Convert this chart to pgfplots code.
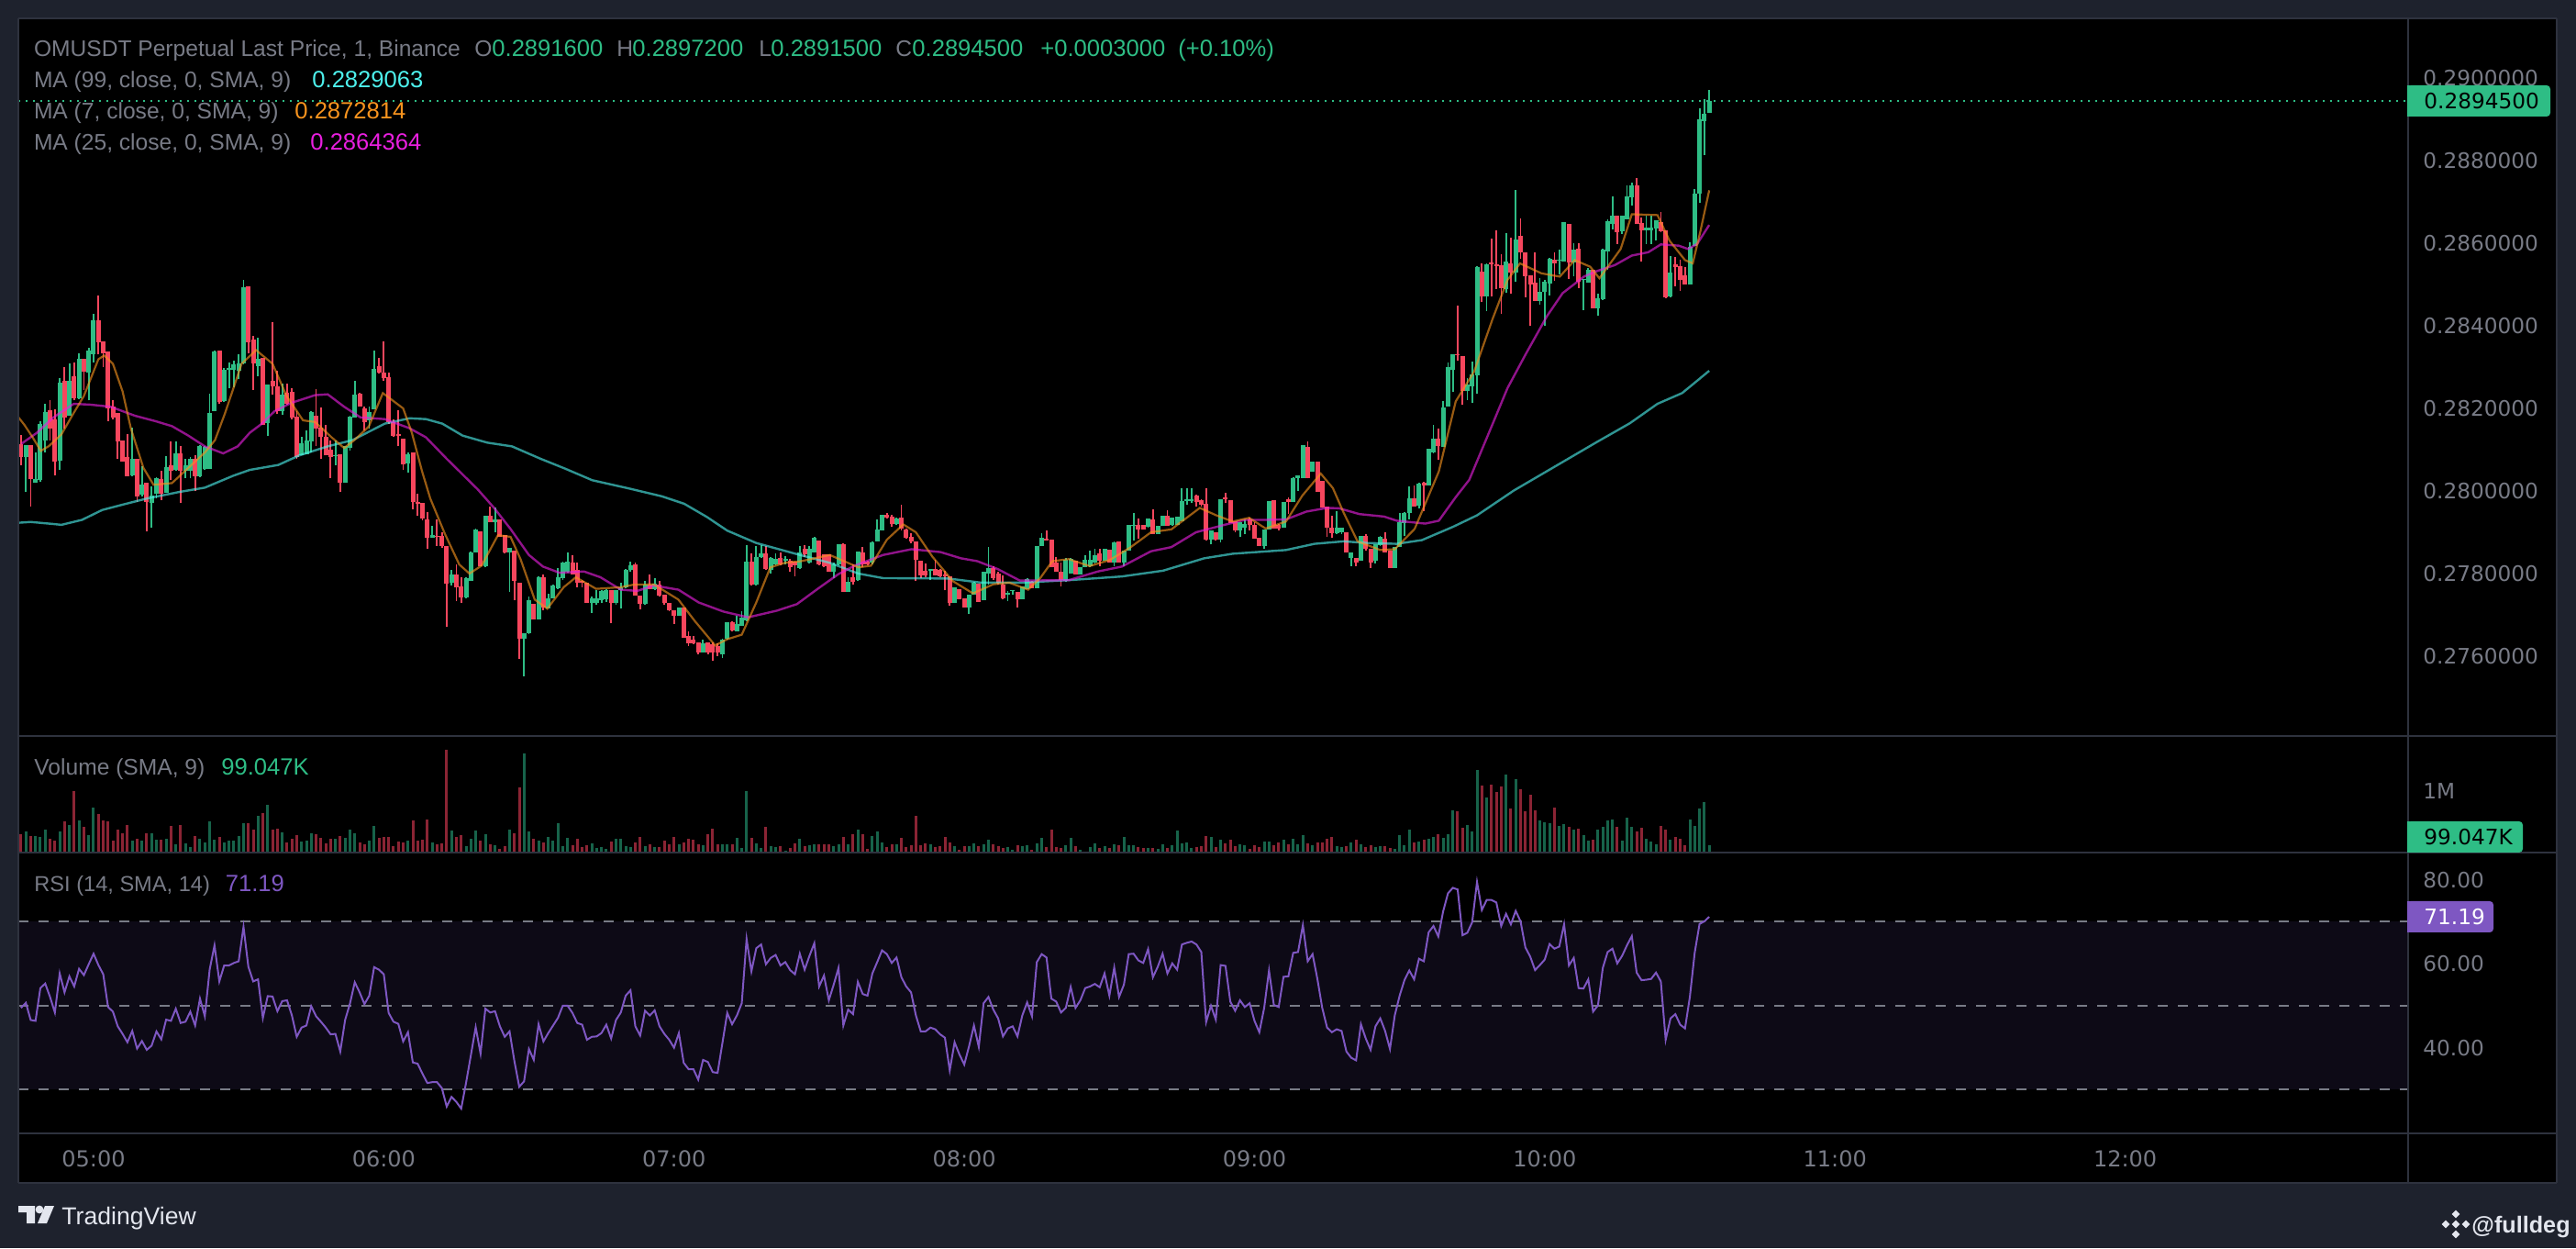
\documentclass[border=0pt]{standalone}
\usepackage{pgfplots}
\usepackage{pgfplotstable}
\usepackage{fontspec}
\setmainfont{Liberation Sans}
\newfontfamily\scalefont{DejaVu Sans}
\pgfplotsset{compat=1.18}
\definecolor{outer}{HTML}{1E222D}
\definecolor{sep}{HTML}{2E323E}
\definecolor{txt}{HTML}{787B86}
\definecolor{up}{HTML}{2EBD85}
\definecolor{dn}{HTML}{F6465D}
\definecolor{upv}{HTML}{17634A}
\definecolor{dnv}{HTML}{8B2434}
\definecolor{ma99}{HTML}{4DF0EC}
\definecolor{ma7}{HTML}{F7931E}
\definecolor{ma25}{HTML}{E91FDF}
\definecolor{rsi}{HTML}{7E57C2}
\definecolor{band}{HTML}{0D0A16}
\definecolor{foot}{HTML}{E3E6EE}
\pgfplotstableread{
t o h l c v r
-15 0.28114 0.28136 0.28063 0.28082 288 49.5
-14 0.28082 0.28111 0.27997 0.28111 338 50.7
-13 0.28111 0.28111 0.27963 0.28028 263 46.6
-12 0.28021 0.28093 0.28021 0.28028 263 46.4
-11 0.28026 0.28169 0.28023 0.28163 247 54.2
-10 0.28123 0.28211 0.28093 0.28191 364 55.3
-9 0.28195 0.28220 0.28123 0.28150 217 52.1
-8 0.28174 0.28197 0.28037 0.28072 187 48.4
-7 0.28074 0.28274 0.28052 0.28262 328 57.7
-6 0.28267 0.28300 0.28152 0.28178 505 53.2
-5 0.28182 0.28308 0.28182 0.28267 444 57.0
-4 0.28278 0.28311 0.28219 0.28225 1005 54.6
-3 0.28225 0.28333 0.28223 0.28319 520 58.8
-2 0.28319 0.28319 0.28245 0.28289 414 57.3
-1 0.28286 0.28346 0.28219 0.28339 278 59.9
0 0.28331 0.28429 0.28311 0.28414 732 62.4
1 0.28414 0.28473 0.28330 0.28361 626 59.7
2 0.28363 0.28363 0.28300 0.28334 520 57.5
3 0.28337 0.28337 0.28169 0.28199 505 49.7
4 0.28204 0.28219 0.28174 0.28178 177 48.6
5 0.28188 0.28189 0.28078 0.28121 369 45.1
6 0.28123 0.28123 0.28072 0.28072 298 43.3
7 0.28082 0.28137 0.28035 0.28035 444 41.3
8 0.28037 0.28154 0.28035 0.28078 187 44.0
9 0.28078 0.28078 0.27974 0.27987 217 39.8
10 0.27991 0.28060 0.27986 0.28015 187 41.6
11 0.28020 0.28020 0.27902 0.27974 308 39.5
12 0.27972 0.28011 0.27911 0.27989 308 40.5
13 0.27993 0.28034 0.27982 0.28030 202 43.9
14 0.28028 0.28048 0.27978 0.27993 202 42.0
15 0.27995 0.28084 0.27995 0.28058 217 46.7
16 0.28063 0.28121 0.28026 0.28048 429 46.4
17 0.28052 0.28119 0.28048 0.28091 126 49.3
18 0.28091 0.28109 0.27971 0.28048 444 45.9
19 0.28048 0.28078 0.28030 0.28063 136 46.2
20 0.28048 0.28082 0.28030 0.28078 76 48.6
21 0.28077 0.28087 0.27999 0.28035 263 45.3
22 0.28035 0.28111 0.28034 0.28109 217 51.7
23 0.28054 0.28108 0.28052 0.28106 157 47.5
24 0.28054 0.28236 0.28054 0.28189 505 58.6
25 0.28194 0.28339 0.28193 0.28337 202 64.4
26 0.28339 0.28341 0.28211 0.28215 237 55.8
27 0.28217 0.28297 0.28215 0.28294 152 59.6
28 0.28294 0.28310 0.28248 0.28297 187 59.6
29 0.28294 0.28315 0.28252 0.28306 187 60.2
30 0.28291 0.28330 0.28271 0.28308 263 60.6
31 0.28308 0.28511 0.28306 0.28494 475 68.8
32 0.28496 0.28496 0.28333 0.28361 475 59.3
33 0.28366 0.28376 0.28245 0.28308 369 55.8
34 0.28303 0.28371 0.28278 0.28319 596 56.3
35 0.28323 0.28323 0.28159 0.28160 641 47.1
36 0.28165 0.28257 0.28134 0.28257 778 52.3
37 0.28267 0.28409 0.28234 0.28254 369 52.2
38 0.28254 0.28291 0.28186 0.28193 379 48.7
39 0.28193 0.28260 0.28184 0.28234 323 51.1
40 0.28237 0.28260 0.28208 0.28211 152 51.3
41 0.28241 0.28248 0.28174 0.28177 217 47.7
42 0.28180 0.28193 0.28078 0.28082 278 42.6
43 0.28086 0.28130 0.28086 0.28115 172 44.8
44 0.28089 0.28146 0.28089 0.28123 187 45.3
45 0.28119 0.28193 0.28093 0.28191 308 49.9
46 0.28182 0.28246 0.28108 0.28152 293 47.5
47 0.28154 0.28203 0.28078 0.28130 232 46.2
48 0.28131 0.28160 0.28086 0.28086 141 44.8
49 0.28100 0.28123 0.28032 0.28082 217 43.2
50 0.28086 0.28123 0.28063 0.28087 217 43.3
51 0.28089 0.28089 0.27997 0.28020 263 39.1
52 0.28020 0.28109 0.28020 0.28108 232 46.6
53 0.28104 0.28182 0.28097 0.28180 369 50.5
54 0.28178 0.28267 0.28178 0.28234 308 55.6
55 0.28236 0.28237 0.28204 0.28204 157 53.2
56 0.28200 0.28204 0.28146 0.28167 126 50.4
57 0.28171 0.28204 0.28152 0.28191 187 52.4
58 0.28197 0.28340 0.28197 0.28296 429 59.2
59 0.28303 0.28323 0.28284 0.28286 232 58.6
60 0.28287 0.28362 0.28267 0.28274 247 57.5
61 0.28276 0.28287 0.28163 0.28167 247 48.3
62 0.28167 0.28174 0.28132 0.28134 96 46.2
63 0.28137 0.28195 0.28108 0.28133 172 45.7
64 0.28126 0.28126 0.28052 0.28065 157 41.5
65 0.28067 0.28093 0.28045 0.28089 187 43.7
66 0.28093 0.28093 0.27956 0.27974 520 36.5
67 0.27974 0.27993 0.27941 0.27969 187 36.2
68 0.27972 0.27972 0.27929 0.27934 202 33.8
69 0.27931 0.27948 0.27860 0.27886 535 31.6
70 0.27887 0.27915 0.27886 0.27894 157 31.8
71 0.27892 0.27931 0.27867 0.27889 126 31.8
72 0.27891 0.27900 0.27863 0.27867 141 30.4
73 0.27867 0.27867 0.27672 0.27776 1682 26.0
74 0.27778 0.27808 0.27771 0.27797 354 28.3
75 0.27797 0.27822 0.27734 0.27767 247 27.1
76 0.27768 0.27791 0.27730 0.27743 278 25.5
77 0.27743 0.27791 0.27741 0.27788 96 31.6
78 0.27783 0.27854 0.27782 0.27852 217 38.2
79 0.27852 0.27909 0.27852 0.27906 354 44.9
80 0.27902 0.27902 0.27817 0.27817 187 38.6
81 0.27817 0.27939 0.27815 0.27939 293 49.3
82 0.27939 0.27963 0.27924 0.27924 126 48.4
83 0.27924 0.27961 0.27900 0.27932 111 48.7
84 0.27932 0.27932 0.27889 0.27889 50 45.1
85 0.27893 0.27893 0.27849 0.27851 96 42.6
86 0.27852 0.27863 0.27756 0.27863 369 43.9
87 0.27856 0.27856 0.27736 0.27782 308 36.8
88 0.27778 0.27778 0.27593 0.27643 1066 30.7
89 0.27643 0.27656 0.27552 0.27656 1626 32.0
90 0.27656 0.27745 0.27654 0.27736 338 39.7
91 0.27726 0.27726 0.27689 0.27689 217 37.1
92 0.27689 0.27793 0.27689 0.27791 187 45.6
93 0.27791 0.27797 0.27711 0.27717 157 41.5
94 0.27715 0.27752 0.27715 0.27741 247 43.5
95 0.27741 0.27774 0.27739 0.27772 187 45.3
96 0.27765 0.27813 0.27763 0.27791 475 47.1
97 0.27789 0.27828 0.27785 0.27826 96 50.0
98 0.27804 0.27851 0.27802 0.27828 232 50.0
99 0.27826 0.27845 0.27797 0.27798 111 48.3
100 0.27809 0.27826 0.27767 0.27778 217 45.9
101 0.27783 0.27785 0.27767 0.27778 81 45.5
102 0.27778 0.27778 0.27728 0.27730 111 41.9
103 0.27730 0.27745 0.27704 0.27739 141 42.6
104 0.27730 0.27760 0.27724 0.27739 66 42.7
105 0.27736 0.27761 0.27730 0.27758 81 43.5
106 0.27737 0.27763 0.27731 0.27761 50 45.5
107 0.27761 0.27761 0.27680 0.27728 172 42.2
108 0.27728 0.27761 0.27725 0.27760 217 46.6
109 0.27760 0.27778 0.27715 0.27767 217 48.4
110 0.27767 0.27811 0.27765 0.27810 96 52.4
111 0.27808 0.27828 0.27804 0.27820 81 53.7
112 0.27822 0.27826 0.27747 0.27747 152 45.1
113 0.27747 0.27747 0.27714 0.27726 247 42.9
114 0.27726 0.27782 0.27724 0.27773 96 48.8
115 0.27774 0.27798 0.27762 0.27763 126 47.7
116 0.27763 0.27789 0.27761 0.27776 81 48.9
117 0.27773 0.27782 0.27745 0.27746 81 45.1
118 0.27748 0.27748 0.27725 0.27728 182 43.3
119 0.27730 0.27730 0.27710 0.27711 116 41.9
120 0.27711 0.27711 0.27678 0.27697 247 40.0
121 0.27697 0.27717 0.27697 0.27717 126 43.5
122 0.27717 0.27717 0.27645 0.27645 157 36.4
123 0.27648 0.27660 0.27625 0.27632 217 34.9
124 0.27641 0.27650 0.27630 0.27632 197 34.9
125 0.27634 0.27634 0.27604 0.27608 126 32.4
126 0.27610 0.27641 0.27610 0.27632 111 37.1
127 0.27634 0.27634 0.27604 0.27610 293 36.6
128 0.27630 0.27634 0.27589 0.27608 384 34.2
129 0.27625 0.27632 0.27600 0.27608 126 34.0
130 0.27604 0.27642 0.27595 0.27641 126 41.1
131 0.27642 0.27683 0.27641 0.27682 126 48.3
132 0.27683 0.27685 0.27660 0.27663 126 45.6
133 0.27661 0.27697 0.27660 0.27678 232 47.7
134 0.27674 0.27710 0.27673 0.27694 66 50.6
135 0.27687 0.27868 0.27685 0.27828 1005 65.9
136 0.27830 0.27848 0.27771 0.27773 232 58.2
137 0.27773 0.27867 0.27771 0.27839 141 63.7
138 0.27839 0.27868 0.27838 0.27848 66 64.6
139 0.27848 0.27867 0.27808 0.27811 414 59.9
140 0.27810 0.27841 0.27800 0.27837 96 61.4
141 0.27822 0.27848 0.27819 0.27835 81 62.1
142 0.27837 0.27852 0.27820 0.27822 96 59.6
143 0.27832 0.27842 0.27822 0.27835 20 60.4
144 0.27830 0.27835 0.27804 0.27815 66 58.5
145 0.27828 0.27830 0.27793 0.27819 141 57.5
146 0.27813 0.27867 0.27811 0.27852 217 62.4
147 0.27859 0.27869 0.27841 0.27847 96 58.6
148 0.27826 0.27867 0.27825 0.27859 111 61.9
149 0.27852 0.27889 0.27850 0.27887 126 64.9
150 0.27879 0.27879 0.27820 0.27822 126 54.6
151 0.27847 0.27847 0.27815 0.27817 126 57.2
152 0.27847 0.27847 0.27804 0.27804 126 51.3
153 0.27805 0.27826 0.27789 0.27822 96 55.0
154 0.27822 0.27872 0.27820 0.27871 126 59.0
155 0.27872 0.27874 0.27756 0.27756 247 45.3
156 0.27756 0.27791 0.27755 0.27780 126 49.1
157 0.27791 0.27822 0.27774 0.27780 293 48.0
158 0.27785 0.27854 0.27783 0.27854 369 55.7
159 0.27850 0.27865 0.27815 0.27822 293 52.8
160 0.27830 0.27832 0.27820 0.27822 50 52.4
161 0.27826 0.27877 0.27822 0.27876 263 57.7
162 0.27878 0.27932 0.27877 0.27906 338 60.4
163 0.27905 0.27943 0.27904 0.27942 157 63.2
164 0.27942 0.27946 0.27934 0.27936 81 62.3
165 0.27937 0.27942 0.27914 0.27919 126 60.2
166 0.27919 0.27936 0.27917 0.27934 126 61.5
167 0.27936 0.27967 0.27904 0.27909 232 56.8
168 0.27906 0.27908 0.27885 0.27887 81 54.6
169 0.27889 0.27897 0.27874 0.27877 111 53.2
170 0.27878 0.27878 0.27782 0.27834 596 47.7
171 0.27830 0.27830 0.27789 0.27796 111 43.9
172 0.27807 0.27824 0.27792 0.27796 141 43.9
173 0.27807 0.27811 0.27785 0.27811 126 44.8
174 0.27811 0.27833 0.27795 0.27796 81 44.4
175 0.27810 0.27811 0.27792 0.27793 96 43.2
176 0.27798 0.27807 0.27759 0.27793 247 42.4
177 0.27793 0.27793 0.27722 0.27730 157 34.6
178 0.27730 0.27767 0.27730 0.27767 96 41.3
179 0.27763 0.27763 0.27738 0.27738 35 38.4
180 0.27741 0.27741 0.27718 0.27718 96 36.0
181 0.27718 0.27750 0.27702 0.27750 96 40.4
182 0.27748 0.27780 0.27748 0.27778 141 45.3
183 0.27776 0.27776 0.27732 0.27732 96 40.2
184 0.27735 0.27804 0.27735 0.27804 126 50.6
185 0.27799 0.27864 0.27774 0.27813 202 52.1
186 0.27813 0.27818 0.27785 0.27789 126 49.1
187 0.27800 0.27804 0.27773 0.27778 96 47.0
188 0.27774 0.27796 0.27737 0.27739 66 42.7
189 0.27750 0.27758 0.27733 0.27753 81 44.6
190 0.27758 0.27759 0.27750 0.27759 35 45.1
191 0.27755 0.27755 0.27718 0.27737 111 42.7
192 0.27738 0.27770 0.27738 0.27769 96 47.7
193 0.27763 0.27790 0.27763 0.27787 111 50.8
194 0.27781 0.27782 0.27764 0.27764 35 47.5
195 0.27765 0.27867 0.27765 0.27867 141 60.4
196 0.27867 0.27898 0.27867 0.27887 232 62.3
197 0.27884 0.27904 0.27880 0.27881 81 61.5
198 0.27883 0.27883 0.27815 0.27815 369 51.7
199 0.27826 0.27841 0.27804 0.27805 81 51.0
200 0.27805 0.27826 0.27770 0.27785 66 48.4
201 0.27783 0.27837 0.27781 0.27833 111 49.5
202 0.27800 0.27837 0.27799 0.27835 232 54.5
203 0.27832 0.27832 0.27798 0.27798 96 49.5
204 0.27798 0.27815 0.27798 0.27815 35 51.3
205 0.27815 0.27844 0.27815 0.27833 5 54.2
206 0.27818 0.27855 0.27815 0.27833 81 54.6
207 0.27826 0.27861 0.27824 0.27844 141 55.2
208 0.27848 0.27861 0.27818 0.27832 66 54.4
209 0.27830 0.27861 0.27830 0.27859 96 57.7
210 0.27858 0.27858 0.27826 0.27826 66 52.4
211 0.27826 0.27878 0.27818 0.27876 126 59.1
212 0.27878 0.27878 0.27827 0.27827 111 52.1
213 0.27827 0.27855 0.27818 0.27855 247 55.0
214 0.27855 0.27917 0.27855 0.27917 111 62.3
215 0.27915 0.27946 0.27881 0.27918 111 62.4
216 0.27917 0.27933 0.27885 0.27907 76 60.8
217 0.27917 0.27917 0.27906 0.27907 66 60.2
218 0.27913 0.27933 0.27912 0.27933 66 63.5
219 0.27932 0.27955 0.27896 0.27896 66 56.8
220 0.27896 0.27915 0.27896 0.27915 50 59.3
221 0.27915 0.27941 0.27915 0.27941 126 62.4
222 0.27941 0.27954 0.27915 0.27915 61 57.7
223 0.27918 0.27935 0.27916 0.27935 111 60.1
224 0.27918 0.27937 0.27918 0.27937 354 58.6
225 0.27926 0.28006 0.27926 0.27975 141 64.6
226 0.27975 0.28006 0.27967 0.27980 157 65.0
227 0.27975 0.28006 0.27970 0.27980 66 65.3
228 0.27989 0.27992 0.27963 0.27974 81 64.6
229 0.27978 0.27980 0.27963 0.27967 96 62.8
230 0.27968 0.28006 0.27881 0.27883 263 46.1
231 0.27883 0.27904 0.27870 0.27904 247 50.0
232 0.27900 0.27900 0.27881 0.27883 81 46.7
233 0.27883 0.27981 0.27876 0.27981 202 59.7
234 0.27985 0.27995 0.27972 0.27980 141 59.5
235 0.27978 0.27978 0.27922 0.27922 202 51.0
236 0.27926 0.27926 0.27900 0.27904 96 48.8
237 0.27905 0.27924 0.27889 0.27924 126 51.3
238 0.27910 0.27930 0.27895 0.27921 111 49.7
239 0.27930 0.27935 0.27905 0.27918 50 50.6
240 0.27918 0.27924 0.27884 0.27884 111 46.4
241 0.27887 0.27887 0.27867 0.27867 81 43.7
242 0.27867 0.27906 0.27861 0.27906 172 49.5
243 0.27906 0.27975 0.27906 0.27975 172 58.4
244 0.27978 0.27978 0.27909 0.27909 111 50.2
245 0.27918 0.27920 0.27905 0.27909 157 49.7
246 0.27911 0.27974 0.27911 0.27974 202 56.9
247 0.27980 0.27985 0.27944 0.27974 126 57.0
248 0.27974 0.28034 0.27974 0.28031 217 62.6
249 0.28031 0.28037 0.28000 0.28037 126 62.8
250 0.28030 0.28110 0.28030 0.28110 278 69.2
251 0.28106 0.28119 0.28030 0.28030 141 60.6
252 0.28047 0.28072 0.28047 0.28072 111 62.3
253 0.28070 0.28070 0.27998 0.27998 157 56.4
254 0.28024 0.28024 0.27961 0.27961 157 49.5
255 0.27963 0.27963 0.27889 0.27911 217 44.8
256 0.27912 0.27941 0.27887 0.27898 247 43.7
257 0.27898 0.27952 0.27895 0.27911 96 44.4
258 0.27900 0.27911 0.27895 0.27911 81 44.0
259 0.27901 0.27901 0.27850 0.27850 96 39.1
260 0.27837 0.27852 0.27818 0.27852 157 37.6
261 0.27837 0.27837 0.27818 0.27827 202 37.0
262 0.27830 0.27891 0.27830 0.27891 126 45.6
263 0.27891 0.27896 0.27855 0.27860 81 42.2
264 0.27859 0.27859 0.27813 0.27827 111 39.5
265 0.27830 0.27872 0.27825 0.27870 81 45.1
266 0.27868 0.27892 0.27866 0.27888 96 47.0
267 0.27884 0.27900 0.27851 0.27852 96 44.0
268 0.27856 0.27856 0.27813 0.27813 66 39.7
269 0.27814 0.27864 0.27814 0.27864 50 47.7
270 0.27864 0.27947 0.27864 0.27925 278 52.4
271 0.27922 0.27949 0.27890 0.27947 111 56.1
272 0.27947 0.28011 0.27932 0.27982 369 58.4
273 0.27983 0.28013 0.27962 0.27963 157 56.3
274 0.27965 0.28019 0.27957 0.28017 172 61.2
275 0.28020 0.28023 0.27951 0.28013 202 60.6
276 0.28013 0.28102 0.28013 0.28102 217 67.5
277 0.28094 0.28160 0.28092 0.28126 247 69.0
278 0.28126 0.28150 0.28076 0.28108 293 66.5
279 0.28106 0.28217 0.28106 0.28203 232 72.5
280 0.28205 0.28311 0.28205 0.28301 293 76.8
281 0.28293 0.28332 0.28240 0.28332 687 78.1
282 0.28332 0.28449 0.28316 0.28328 672 77.7
283 0.28327 0.28327 0.28208 0.28243 399 66.8
284 0.28243 0.28273 0.28221 0.28257 444 67.4
285 0.28253 0.28313 0.28213 0.28282 338 69.9
286 0.28279 0.28544 0.28236 0.28543 1348 79.5
287 0.28531 0.28551 0.28457 0.28471 1096 72.8
288 0.28471 0.28551 0.28436 0.28549 899 75.2
289 0.28553 0.28612 0.28470 0.28549 1111 75.2
290 0.28549 0.28632 0.28489 0.28545 990 74.6
291 0.28547 0.28573 0.28428 0.28491 1081 69.0
292 0.28489 0.28624 0.28479 0.28555 1278 71.9
293 0.28551 0.28613 0.28478 0.28528 717 69.4
294 0.28528 0.28728 0.28507 0.28609 1202 72.6
295 0.28617 0.28660 0.28563 0.28577 1035 70.1
296 0.28578 0.28578 0.28469 0.28520 672 63.9
297 0.28523 0.28523 0.28401 0.28499 944 61.7
298 0.28505 0.28578 0.28459 0.28461 687 58.5
299 0.28461 0.28515 0.28451 0.28483 520 59.7
300 0.28483 0.28511 0.28400 0.28507 490 61.0
301 0.28503 0.28564 0.28473 0.28563 475 64.7
302 0.28561 0.28577 0.28509 0.28552 732 63.6
303 0.28557 0.28584 0.28525 0.28560 429 64.1
304 0.28555 0.28650 0.28555 0.28650 460 69.4
305 0.28646 0.28646 0.28513 0.28553 414 59.6
306 0.28553 0.28600 0.28519 0.28584 369 61.4
307 0.28586 0.28600 0.28491 0.28507 384 54.2
308 0.28511 0.28513 0.28438 0.28513 278 54.1
309 0.28505 0.28540 0.28505 0.28535 187 56.3
310 0.28535 0.28535 0.28442 0.28442 202 48.6
311 0.28442 0.28478 0.28425 0.28467 369 50.1
312 0.28465 0.28586 0.28463 0.28584 414 59.0
313 0.28581 0.28658 0.28536 0.28654 520 62.8
314 0.28646 0.28713 0.28634 0.28667 535 63.6
315 0.28667 0.28667 0.28598 0.28626 414 60.1
316 0.28628 0.28667 0.28622 0.28667 187 61.9
317 0.28658 0.28740 0.28658 0.28713 566 64.4
318 0.28711 0.28747 0.28692 0.28740 414 66.6
319 0.28740 0.28757 0.28646 0.28647 338 57.9
320 0.28649 0.28662 0.28556 0.28632 399 56.1
321 0.28632 0.28666 0.28598 0.28638 217 56.2
322 0.28632 0.28667 0.28598 0.28638 172 56.4
323 0.28636 0.28655 0.28606 0.28655 126 57.9
324 0.28650 0.28675 0.28626 0.28628 429 55.8
325 0.28632 0.28632 0.28467 0.28469 369 41.9
326 0.28471 0.28569 0.28469 0.28528 202 47.0
327 0.28548 0.28567 0.28495 0.28543 247 48.0
328 0.28544 0.28560 0.28485 0.28511 217 45.5
329 0.28523 0.28543 0.28501 0.28501 101 44.6
330 0.28501 0.28602 0.28501 0.28590 535 52.1
331 0.28594 0.28732 0.28594 0.28720 429 62.6
332 0.28719 0.28926 0.28697 0.28900 717 69.5
333 0.28896 0.28949 0.28813 0.28913 823 70.1
334 0.28916 0.28972 0.28915 0.28945 99 71.19
}\candles
\pgfplotstableread{
t p
-15.5 0.27923
-13 0.27925
-8.3 0.27920
-6.65 0.27918
-2.4 0.27930
1.8 0.27954
6.05 0.27967
11.1 0.27982
17.9 0.27998
23 0.28008
28.9 0.28037
32.3 0.28051
38.2 0.28063
42.5 0.28086
48.4 0.28108
53.5 0.28123
60.2 0.28163
65.3 0.28176
68.7 0.28174
72.1 0.28163
76.3 0.28134
81.4 0.28117
86.5 0.28108
92.4 0.28078
97.5 0.28054
103.1 0.28026
110.7 0.28006
117.5 0.27987
122.1 0.27969
126.8 0.27937
131 0.27904
137 0.27874
145.4 0.27847
152.2 0.27826
158.1 0.27800
163.2 0.27789
176.7 0.27788
183.5 0.27778
191.5 0.27778
201.6 0.27784
212.6 0.27793
221.1 0.27807
229.6 0.27837
235.5 0.27848
246.5 0.27857
252.4 0.27872
258.4 0.27878
263.4 0.27874
269.4 0.27872
274.6 0.27881
281 0.27913
286 0.27941
293.6 0.28001
303.1 0.28066
310.7 0.28118
317.6 0.28164
323.3 0.28211
328.4 0.28237
330.9 0.28261
334 0.28291
}\mann
\pgfplotstableread{
t p
-14.95 0.28114
-11.7 0.28141
-8.3 0.28178
-4.1 0.28211
-0.7 0.28209
3.5 0.28204
8.6 0.28182
12.8 0.28169
16.2 0.28157
19.6 0.28134
23 0.28108
26.8 0.28091
29.8 0.28108
32.3 0.28141
34.8 0.28163
37.4 0.28193
40.8 0.28213
45.8 0.28232
48.4 0.28234
51.8 0.28204
55.2 0.28178
60.2 0.28174
65.3 0.28152
68.7 0.28130
73 0.28078
79.4 0.28004
82.8 0.27959
86.2 0.27908
90 0.27845
92.9 0.27817
96.3 0.27802
101.4 0.27805
104.8 0.27791
109 0.27761
112.4 0.27758
115.8 0.27771
120.9 0.27761
125.1 0.27730
130.2 0.27708
135.3 0.27694
141.2 0.27710
145.4 0.27726
149.7 0.27763
153.9 0.27798
157.3 0.27819
163.2 0.27845
169.1 0.27859
175.1 0.27852
179.3 0.27837
182.7 0.27830
186.9 0.27811
191.5 0.27783
201.6 0.27784
207.6 0.27805
212.6 0.27817
218.6 0.27854
222.8 0.27864
227.9 0.27900
233.8 0.27918
238 0.27930
242.3 0.27930
246.5 0.27931
250.7 0.27950
255 0.27959
257.5 0.27958
261.7 0.27944
266.8 0.27938
269.4 0.27928
275.3 0.27921
278.1 0.27928
281.6 0.27985
284.4 0.28027
289.5 0.28170
292.3 0.28249
296.1 0.28332
300.5 0.28424
303.7 0.28479
308.1 0.28519
310.7 0.28532
314.5 0.28547
318 0.28570
321.4 0.28578
324 0.28597
327.7 0.28594
329.6 0.28586
331.5 0.28598
334 0.28644
}\mbb
\pgfplotstableread{
t p
-15.5 0.28178
-14.3 0.28160
-12.6 0.28130
-10.9 0.28097
-9.2 0.28109
-6.65 0.28137
-4.1 0.28189
-2 0.28230
1 0.28319
2.2 0.28328
4 0.28308
6 0.28241
7.7 0.28152
10.3 0.28056
12.4 0.28015
16.2 0.28019
19.6 0.28056
23 0.28093
25.1 0.28123
27.2 0.28189
30.6 0.28308
33.6 0.28341
37 0.28308
39.9 0.28230
43.3 0.28171
45.8 0.28167
49.2 0.28130
51.8 0.28104
53.9 0.28123
56.9 0.28156
59.8 0.28237
64 0.28200
65.8 0.28141
67.9 0.28048
69.6 0.27982
72.6 0.27897
75.6 0.27822
77.7 0.27800
80.2 0.27819
83.6 0.27893
86.2 0.27889
88.3 0.27834
91.2 0.27737
93.8 0.27715
97.2 0.27767
99.7 0.27791
103.9 0.27763
109 0.27767
111.6 0.27773
115.8 0.27774
120.9 0.27737
124.3 0.27685
128.5 0.27626
131 0.27641
134 0.27652
137 0.27730
139.9 0.27815
142.9 0.27826
146.3 0.27830
152.2 0.27845
158.1 0.27815
160.7 0.27819
164 0.27882
167.4 0.27919
170 0.27900
173.4 0.27841
177.6 0.27782
181.8 0.27752
186 0.27774
189.3 0.27778
193.2 0.27761
195.7 0.27789
198.2 0.27830
201.6 0.27835
205.9 0.27818
210.1 0.27833
214.3 0.27863
218.6 0.27900
222.8 0.27907
228.7 0.27959
232.1 0.27941
235.5 0.27926
238.9 0.27935
242.3 0.27909
246.5 0.27926
249.9 0.27989
253.7 0.28042
256.2 0.28007
258.4 0.27948
261.3 0.27878
266 0.27857
269 0.27859
273.1 0.27908
278.1 0.28047
281.6 0.28217
285.4 0.28289
289.2 0.28416
292.3 0.28511
294.9 0.28551
299.3 0.28527
303.1 0.28519
306.2 0.28559
309.4 0.28543
311.3 0.28515
315.7 0.28586
318 0.28670
323.3 0.28668
325.8 0.28606
329 0.28559
330.6 0.28551
332.2 0.28630
334 0.28728
}\mseven
\pgfplotsset{
  pane/.style={
    at={(10pt,#1)},anchor=south west,scale only axis,width=1302.5pt,
    xmin=-15.55,xmax=478.5,clip=true,
    axis line style={draw=none},major tick length=0pt,minor tick length=0pt,
    xtick=\empty,
    yticklabel pos=right,
    tick label style={text=txt,font=\scalefont\fontsize{11.6pt}{13pt}\selectfont},
    y tick label style={anchor=west,inner sep=0pt,xshift=8pt},
  },
  wick/.style={draw=none,mark=none,forget plot,
    error bars/.cd,y dir=plus,y explicit,error mark=none,
    error bar style={line width=0.9pt,line cap=butt,color=#1}},
  body/.style={draw=none,mark=none,forget plot,
    error bars/.cd,y dir=plus,y explicit,error mark=none,
    error bar style={line width=2.5pt,line cap=butt,color=#1}},
  isup/.style={x filter/.expression={\thisrow{c}>=\thisrow{o}?x:nan}},
  isdn/.style={x filter/.expression={\thisrow{c}<\thisrow{o}?x:nan}},
}
\begin{document}
\begin{tikzpicture}[x=1pt,y=1pt]
\useasboundingbox (0,0) rectangle (1404,680);
\fill[outer] (0,0) rectangle (1404,680);
\fill[black] (10,35.5) rectangle (1393.5,670);
% price pane
\begin{axis}[pane=279pt,height=391pt,ymin=0.274067,ymax=0.291444,
  ytick={0.276,0.278,0.28,0.282,0.284,0.286,0.288,0.29},
  yticklabels={0.2760000,0.2780000,0.2800000,0.2820000,0.2840000,0.2860000,0.2880000,0.2900000}]
\addplot[isup,wick=up] table[x=t,y=l,y error plus expr=\thisrow{h}-\thisrow{l}] {\candles};
\addplot[isdn,wick=dn] table[x=t,y=l,y error plus expr=\thisrow{h}-\thisrow{l}] {\candles};
\addplot[isup,body=up] table[x=t,y=o,y error plus expr=\thisrow{c}-\thisrow{o}] {\candles};
\addplot[isdn,body=dn] table[x=t,y=c,y error plus expr=\thisrow{o}-\thisrow{c}] {\candles};
\addplot[ma99,opacity=.62,line width=1.2pt,mark=none] table[x=t,y=p] {\mann};
\addplot[ma25,opacity=.62,line width=1.2pt,mark=none] table[x=t,y=p] {\mbb};
\addplot[ma7,opacity=.62,line width=1.1pt,mark=none] table[x=t,y=p] {\mseven};
\draw[up,line width=1pt,dash pattern=on 1pt off 3pt] (axis cs:-15.55,0.28945) -- (axis cs:478.5,0.28945);
\end{axis}
% volume pane
\begin{axis}[pane=215.5pt,height=63.5pt,ymin=-15,ymax=1909,ytick={1000},yticklabels={1M}]
\addplot[isup,ycomb,mark=none,upv,line width=1.5pt] table[x=t,y=v] {\candles};
\addplot[isdn,ycomb,mark=none,dnv,line width=1.5pt] table[x=t,y=v] {\candles};
\end{axis}
% rsi pane
\begin{axis}[pane=62.5pt,height=153pt,ymin=19.6,ymax=86.5,ytick={40,60,80},yticklabels={40.00,60.00,80.00},
  xtick={0,60,120,180,240,300,360,420},
  xticklabels={05:00,06:00,07:00,08:00,09:00,10:00,11:00,12:00},
  x tick label style={anchor=center,inner sep=0pt,yshift=-14pt,font=\scalefont\fontsize{12pt}{13pt}\selectfont}]
\fill[band] (axis cs:-15.55,30) rectangle (axis cs:478.5,70);
\draw[txt,line width=1pt,dash pattern=on 5.5pt off 5.5pt] (axis cs:-15.55,70) -- (axis cs:478.5,70);
\draw[txt,line width=1pt,dash pattern=on 5.5pt off 5.5pt] (axis cs:-15.55,50) -- (axis cs:478.5,50);
\draw[txt,line width=1pt,dash pattern=on 5.5pt off 5.5pt] (axis cs:-15.55,30) -- (axis cs:478.5,30);
\addplot[rsi,line width=1pt,mark=none] table[x=t,y=r] {\candles};
\end{axis}
% frame lines
\draw[sep,line width=1pt] (10,670) -- (1393.5,670);
\draw[sep,line width=1pt] (10,279) -- (1393.5,279);
\draw[sep,line width=1pt] (10,215.5) -- (1393.5,215.5);
\draw[sep,line width=1pt] (10,62.5) -- (1393.5,62.5);
\draw[sep,line width=1pt] (10,35.5) -- (1393.5,35.5);
\draw[sep,line width=1pt] (10,35.5) -- (10,670);
\draw[sep,line width=1pt] (1393.5,35.5) -- (1393.5,670);
\draw[sep,line width=1pt] (1312.5,35.5) -- (1312.5,670);
% value boxes
\newcommand\valbox[5]{%
  \fill[#1,rounded corners=2pt] (1312,#3) rectangle (#2,#4);
  \fill[#1] (1312,#3) rectangle (1316,#4);
  \node[anchor=west,inner sep=0pt,text=#5,font=\scalefont\fontsize{11.6pt}{13pt}\selectfont] at (1321,{(#3+#4)/2})}
\valbox{up}{1390}{616.5}{633.5}{black} {0.2894500};
\valbox{up}{1375}{215.5}{232.5}{black} {99.047K};
\valbox{rsi}{1359}{172}{189}{white} {71.19};
% legend texts
\tikzset{lab/.style={anchor=base west,inner sep=0pt,font=\fontsize{12.3pt}{14pt}\selectfont},
  num/.style={anchor=base west,inner sep=0pt,font=\fontsize{12.8pt}{14pt}\selectfont}}
\node[lab,text=txt] at (18.3,649.2) {OMUSDT Perpetual Last Price, 1, Binance};
\node[lab,text=txt] at (258.5,649.2) {O};
\node[num,text=up] at (268,649.2) {0.2891600};
\node[lab,text=txt] at (336,649.2) {H};
\node[num,text=up] at (344.5,649.2) {0.2897200};
\node[lab,text=txt] at (413.5,649.2) {L};
\node[num,text=up] at (420,649.2) {0.2891500};
\node[lab,text=txt] at (488,649.2) {C};
\node[num,text=up] at (497,649.2) {0.2894500};
\node[num,text=up] at (567,649.2) {+0.0003000};
\node[num,text=up] at (642,649.2) {(+0.10\%)};
\node[lab,text=txt] at (18.3,632) {MA (99, close, 0, SMA, 9)};
\node[num,text=ma99] at (170,632) {0.2829063};
\node[lab,text=txt] at (18.3,615) {MA (7, close, 0, SMA, 9)};
\node[num,text=ma7] at (160.5,615) {0.2872814};
\node[lab,text=txt] at (18.3,598.4) {MA (25, close, 0, SMA, 9)};
\node[num,text=ma25] at (169,598.4) {0.2864364};
\node[lab,text=txt] at (18.5,257.5) {Volume (SMA, 9)};
\node[num,text=up] at (120.5,257.5) {99.047K};
\node[lab,text=txt,font=\fontsize{11.8pt}{14pt}\selectfont] at (18.5,194) {RSI (14, SMA, 14)};
\node[num,text=rsi] at (122.7,194) {71.19};
% footer
\fill[foot] (10,23) -- (19,23) -- (19,13.5) -- (14.5,13.5) -- (14.5,19.5) -- (10,19.5) -- cycle;
\fill[foot] (21.5,21) circle (2.2);
\fill[foot] (24.5,23) -- (29.5,23) -- (25.5,13.5) -- (20.5,13.5) -- cycle;
\node[anchor=base west,inner sep=0pt,text=foot,font=\fontsize{13.3pt}{15pt}\selectfont] at (33.5,13) {TradingView};
\foreach \a/\b in {1338.5/13,1333/13,1344/13,1338.5/18.5,1338.5/7.5}{
  \fill[foot] (\a-2.2,\b) -- (\a,\b+2.2) -- (\a+2.2,\b) -- (\a,\b-2.2) -- cycle;}
\node[anchor=base east,inner sep=0pt,text=foot,font=\bfseries\fontsize{12.6pt}{15pt}\selectfont] at (1401,8.5) {@fulldeg};
\end{tikzpicture}
\end{document}
